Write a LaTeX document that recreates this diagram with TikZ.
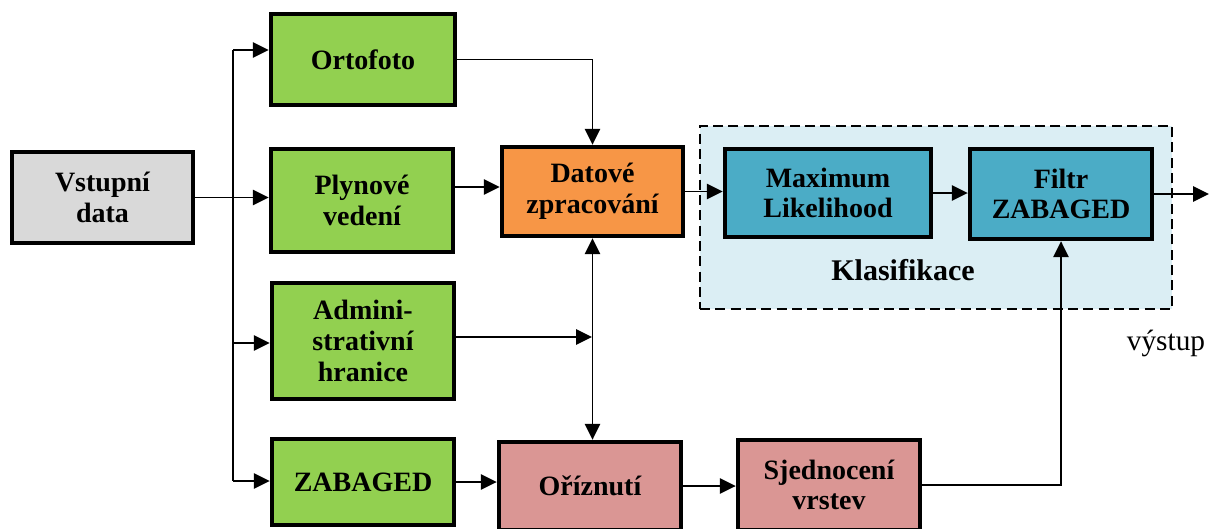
\documentclass[tikz,border=0pt]{standalone}
\usepackage{fontspec}
\setmainfont{Liberation Serif}
\usetikzlibrary{arrows.meta,calc}

\definecolor{cgray}{HTML}{D9D9D9}
\definecolor{cgreen}{HTML}{92D050}
\definecolor{corange}{HTML}{F79646}
\definecolor{cpink}{HTML}{DA9694}
\definecolor{cteal}{HTML}{4BACC6}
\definecolor{clight}{HTML}{DBEEF4}

\tikzset{
  box/.style={draw=black, line width=3.3pt, inner sep=0pt, align=center,
    font=\fontsize{21}{23}\selectfont\bfseries},
  arr/.style={line width=1.4pt, -{Triangle[length=12pt,width=11.5pt]}},
  arrboth/.style={line width=1.4pt, {Triangle[length=12pt,width=11.5pt]}-{Triangle[length=12pt,width=11.5pt]}},
  wire/.style={line width=1.4pt},
  group/.style={draw=black, dash pattern=on 7.5pt off 4pt, line width=2pt, fill=clight, inner sep=0pt},
}

\begin{document}
\begin{tikzpicture}[x=0.75pt,y=-0.75pt]
  \useasboundingbox (0,0) rectangle (1209,528);

  % classification group behind its two steps
  \node[group, minimum width=354pt, minimum height=137.25pt] (klas) at (936,217.5) {};
  \node[font=\fontsize{22.5}{25}\selectfont\bfseries] (klaslbl) at (903,270) {Klasifikace};

  % boxes
  \node[box, fill=cgray,   minimum width=135.75pt, minimum height=68.25pt] (vst)   at (102.5,197.5) {Vstupní\\data};
  \node[box, fill=cgreen,  minimum width=138pt,    minimum height=68.25pt] (orto)  at (363,59.5)    {Ortofoto};
  \node[box, fill=cgreen,  minimum width=136.5pt,  minimum height=77.25pt] (plyn)  at (362,200.5)   {Plynové\\vedení};
  \node[box, fill=cgreen,  minimum width=136.5pt,  minimum height=87pt]    (admin) at (363,341)     {Admini-\\strativní\\hranice};
  \node[box, fill=cgreen,  minimum width=136.5pt,  minimum height=64.5pt]  (zab)   at (363,482)     {ZABAGED};
  \node[box, fill=corange, minimum width=135.75pt, minimum height=66.75pt] (dat)   at (592.5,191.5) {Datové\\zpracování};
  \node[box, fill=cpink,   minimum width=136.5pt,  minimum height=66pt]    (ori)   at (590,486)     {Oříznutí};
  \node[box, fill=cpink,   minimum width=136.5pt,  minimum height=67.5pt]  (sjed)  at (829,485)     {Sjednocení\\vrstev};
  \node[box, fill=cteal,   minimum width=154.5pt,  minimum height=66pt]    (maxl)  at (828,193)     {Maximum\\Likelihood};
  \node[box, fill=cteal,   minimum width=136.5pt,  minimum height=67.5pt]  (filtr) at (1061,194)    {Filtr\\ZABAGED};

  \node[font=\fontsize{22}{25}\selectfont] (vystup) at (1166,343) {výstup};

  % helper points for the branching lines
  \coordinate (bt) at (233,50);
  \coordinate (bm) at (233,343);
  \coordinate (bb) at (233,481);
  \coordinate (p1) at (480,187);
  \coordinate (a1) at (592,337);
  \coordinate (out) at (1209,189);

  % input distribution
  \draw[arr] (vst.east) -- (vst.east -| plyn.west);
  \draw[wire] (bt) -- (bb);
  \draw[arr] (bt) -- (bt -| orto.west);
  \draw[arr] (bm) -- (bm -| admin.west);
  \draw[arr] (bb) -- (bb -| zab.west);

  % into data processing
  \draw[arr] (orto.east) -| (dat.north);
  \draw[arr] (p1 -| plyn.east) -- (p1 -| dat.west);
  \draw[arr] (a1 -| admin.east) -- (a1);
  \draw[arrboth] (dat.south) -- (dat.south |- ori.north);

  % clipping and merging
  \draw[arr] (zab.east) -- (zab.east -| ori.west);
  \draw[arr] (ori.east) -- (ori.east -| sjed.west);
  \draw[arr] (sjed.east) -| (filtr.south);

  % classification chain
  \draw[arr] (dat.east) -- (dat.east -| maxl.west);
  \draw[arr] (maxl.east) -- (maxl.east -| filtr.west);
  \draw[arr] (filtr.east) -- (filtr.east -| out);
\end{tikzpicture}
\end{document}
